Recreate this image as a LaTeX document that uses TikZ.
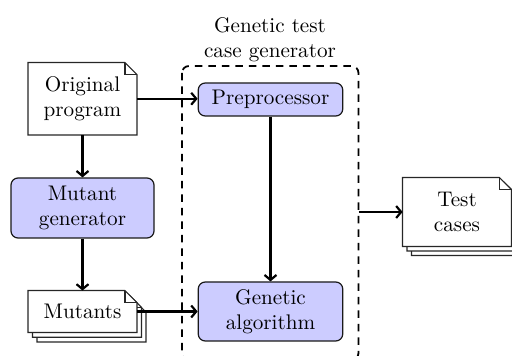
\documentclass[tikz,border=0pt]{standalone}
\usetikzlibrary{arrows.meta}
\definecolor{procblue}{RGB}{204,204,255}
\newlength\pxlen
\setlength\pxlen{0.4727pt}
\tikzset{
  x=\pxlen,y=-\pxlen,
  txt/.style={font=\fontsize{10}{12}\selectfont,align=center,text=black},
  docbox/.style={txt,inner sep=0pt,minimum width=108\pxlen},
  proc/.style={txt,draw=black!90,fill=procblue,rounded corners=7\pxlen,line width=1.2\pxlen,inner sep=0pt},
  link/.style={line width=2.4\pxlen,-{Straight Barb[length=2.36pt,width=5.67pt,line width=1.04pt]}},
  docline/.style={draw=black!85,line width=1.2\pxlen,fill=white,line join=miter},
  group/.style={draw=black,line width=1.8\pxlen,dashed,dash pattern=on 7.5\pxlen off 6\pxlen,rounded corners=7\pxlen}
}
\newcommand{\docoutline}[3]{%
  \path[docline] ([shift={(#2,#3)}]#1.north west) -- ([shift={(#2-12,#3)}]#1.north east) -- ([shift={(#2,#3+12)}]#1.north east) -- ([shift={(#2,#3)}]#1.south east) -- ([shift={(#2,#3)}]#1.south west) -- cycle;
  \draw[docline,fill=none] ([shift={(#2-12,#3)}]#1.north east) -- ([shift={(#2-12,#3+12)}]#1.north east) -- ([shift={(#2,#3+12)}]#1.north east);
}
\begin{document}
\begin{tikzpicture}
\useasboundingbox (0,0) rectangle (512,356);
\clip (0,0) rectangle (512,356);
\node[txt] (title) at (270,40) {Genetic test\\case generator};
\node[docbox,minimum height=71.5\pxlen] (orig) at (82.5,98.75) {};
\node[proc,minimum width=143\pxlen,minimum height=60\pxlen] (mut) at (82.5,208) {Mutant\\generator};
\node[docbox,minimum height=41\pxlen] (mutants) at (82.5,311.5) {};
\node[proc,minimum width=144.5\pxlen,minimum height=33\pxlen] (pre) at (270.5,99.5) {Preprocessor};
\node[proc,minimum width=144.5\pxlen,minimum height=59\pxlen] (ga) at (270.5,311.5) {Genetic\\algorithm};
\node[docbox,minimum height=68\pxlen] (test) at (457,212) {};
\coordinate (gnw) at (182,66);
\coordinate (gse) at (358.5,360);
\draw[group] (gnw) rectangle (gse);
\coordinate (gout) at (358.5,212);
\docoutline{orig}{0}{0}
\docoutline{mutants}{9}{9.5}
\docoutline{mutants}{4.5}{4.75}
\docoutline{mutants}{0}{0}
\docoutline{test}{9}{9}
\docoutline{test}{4.5}{4.5}
\docoutline{test}{0}{0}
\node[txt] at (orig) {Original\\program};
\node[txt] at (mutants) {Mutants};
\node[txt] at (test) {Test\\cases};
\draw[link] (orig.east) -- (pre.west |- orig.east);
\draw[link] (orig) -- (mut);
\draw[link] (mut) -- (mutants);
\draw[link] (mutants.east) -- (ga.west |- mutants.east);
\draw[link] (pre) -- (ga);
\draw[link] (gout) -- (test.west);
\end{tikzpicture}
\end{document}
